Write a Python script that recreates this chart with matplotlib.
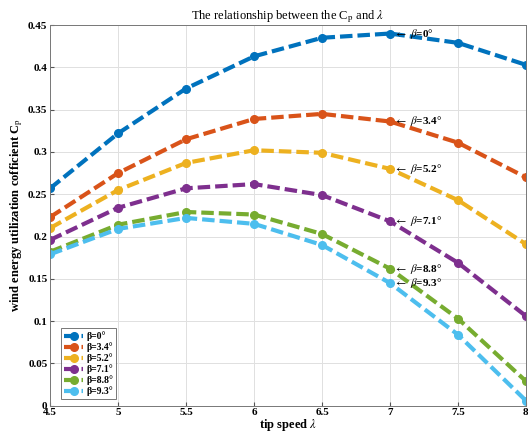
import numpy as np
import matplotlib.pyplot as plt

plt.rcParams['font.family'] = ['Liberation Serif', 'DejaVu Serif']
plt.rcParams['mathtext.fontset'] = 'stix'

tsr = [4.5, 5, 5.5, 6, 6.5, 7, 7.5, 8]
cp_0 = [0.257, 0.322, 0.375, 0.413, 0.435, 0.440, 0.429, 0.403]
cp_34 = [0.223, 0.275, 0.315, 0.339, 0.345, 0.336, 0.311, 0.270]
cp_52 = [0.210, 0.255, 0.287, 0.302, 0.299, 0.280, 0.243, 0.191]
cp_71 = [0.196, 0.234, 0.257, 0.262, 0.249, 0.218, 0.169, 0.106]
cp_88 = [0.182, 0.214, 0.229, 0.226, 0.203, 0.162, 0.103, 0.029]
cp_93 = [0.179, 0.209, 0.222, 0.215, 0.190, 0.145, 0.084, 0.006]
pitch = ['0', '3.4', '5.2', '7.1', '8.8', '9.3']
colors = ['#0072BD', '#D95319', '#EDB120', '#7E2F8E', '#77AC30', '#4DBEEE']

fig = plt.figure(figsize=(5.28, 4.4), dpi=100)
ax = fig.add_axes([0.095, 0.078, 0.901, 0.865])

series = [cp_0, cp_34, cp_52, cp_71, cp_88, cp_93]
for cp, p, c in zip(series, pitch, colors):
    ax.plot(tsr, cp, color=c, lw=3, dashes=(3, 1.2), marker='o', ms=5.5, label='β=' + p + '°')
    ax.text(7.03, cp[5], r'$\leftarrow$ $\beta$=' + p + '°', fontsize=8, fontweight='bold', va='center')

ax.set_xlim(4.5, 8)
ax.set_ylim(0, 0.45)
ax.set_xticks([4.5, 5, 5.5, 6, 6.5, 7, 7.5, 8])
ax.set_xticklabels(['4.5', '5', '5.5', '6', '6.5', '7', '7.5', '8'])
ax.set_yticks([0, 0.05, 0.1, 0.15, 0.2, 0.25, 0.3, 0.35, 0.4, 0.45])
ax.set_yticklabels(['0', '0.05', '0.1', '0.15', '0.2', '0.25', '0.3', '0.35', '0.4', '0.45'])
for t in ax.get_xticklabels() + ax.get_yticklabels():
    t.set_fontweight('bold')
ax.tick_params(labelsize=8, direction='in', length=3, color='#555555', pad=2)
ax.grid(True, color='#e0e0e0', lw=0.7)
for s in ax.spines.values():
    s.set_color('#777777')
    s.set_linewidth(0.7)

ax.set_title(r'The relationship between the C$_{\rm p}$ and $\lambda$', fontsize=9, pad=4)
ax.set_xlabel(r'tip speed $\lambda$', fontsize=9, fontweight='bold', labelpad=0)
ax.set_ylabel(r'wind energy utilization cofficient C$_{\rm p}$', fontsize=9, fontweight='bold', labelpad=2)

leg = ax.legend(loc='lower left', bbox_to_anchor=(0.023, 0.018), borderaxespad=0,
                handlelength=2.0, handletextpad=0.3, borderpad=0.3, labelspacing=0.12,
                fancybox=False, edgecolor='#555555', prop={'weight': 'bold', 'size': 7})
leg.get_frame().set_linewidth(0.7)

fig.savefig('out.png', dpi=100)
